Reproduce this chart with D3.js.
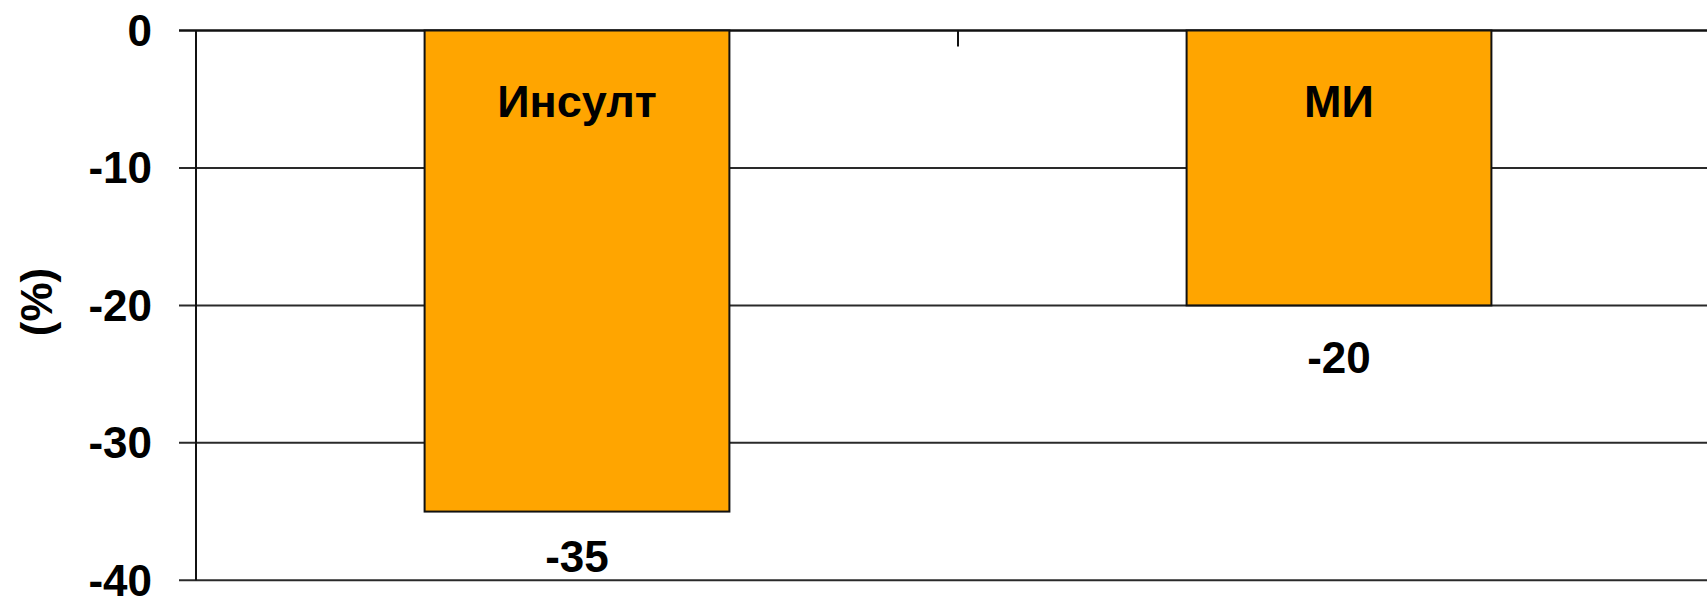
<!DOCTYPE html>
<html>
<head>
<meta charset="utf-8">
<script src="https://cdn.jsdelivr.net/npm/d3@7"></script>
<style>
  html, body { margin: 0; padding: 0; background: #fff; overflow: hidden; }
  text { font-family: "Liberation Sans", Arial, sans-serif; font-weight: bold; fill: #000; }
</style>
</head>
<body>
<div id="chart"></div>
<script>
// chart data
const categories = ["Инсулт", "МИ"];
const values = [-35, -20];
const yTicks = [0, -10, -20, -30, -40];
const yTitle = "(%)";

const width = 1707;
const height = 596;
const margin = { top: 30.5, left: 196, bottom: 15.7 };
const plotRight = 1720; // plot area runs past the window edge

const svg = d3.select("#chart")
    .append("svg")
    .attr("width", width)
    .attr("height", height);

const x = d3.scaleBand()
    .domain(categories)
    .range([margin.left, plotRight])
    .paddingInner(0.6)
    .paddingOuter(0.3);

const y = d3.scaleLinear()
    .domain([0, -40])
    .range([margin.top, height - margin.bottom]);

// gridlines
svg.append("g")
    .selectAll("line")
    .data(yTicks)
    .enter()
    .append("line")
    .attr("x1", margin.left - 17)
    .attr("x2", plotRight)
    .attr("y1", d => y(d))
    .attr("y2", d => y(d))
    .attr("stroke", d => d === 0 ? "#111" : "#2a2a2a")
    .attr("stroke-width", d => d === 0 ? 2.6 : 2);

// y axis line
svg.append("line")
    .attr("x1", margin.left)
    .attr("x2", margin.left)
    .attr("y1", y(0))
    .attr("y2", y(-40))
    .attr("stroke", "#111")
    .attr("stroke-width", 2);

// tick labels
svg.append("g")
    .selectAll("text")
    .data(yTicks)
    .enter()
    .append("text")
    .attr("x", 152)
    .attr("y", d => y(d))
    .attr("dy", "0.35em")
    .attr("text-anchor", "end")
    .style("font-size", "44px")
    .text(d => d);

// category divider ticks (inside, from the zero line)
const step = x.step();
svg.append("g")
    .selectAll("line")
    .data(categories.slice(1))
    .enter()
    .append("line")
    .attr("x1", d => x(d) - x.paddingInner() * step / 2)
    .attr("x2", d => x(d) - x.paddingInner() * step / 2)
    .attr("y1", y(0))
    .attr("y2", y(0) + 16)
    .attr("stroke", "#111")
    .attr("stroke-width", 2);

// bars
svg.append("g")
    .selectAll("rect")
    .data(values)
    .enter()
    .append("rect")
    .attr("x", (d, i) => x(categories[i]))
    .attr("y", y(0))
    .attr("width", x.bandwidth())
    .attr("height", d => y(d) - y(0))
    .attr("fill", "#FFA500")
    .attr("stroke", "#111")
    .attr("stroke-width", 2);

// category labels inside the bars
svg.append("g")
    .selectAll("text")
    .data(categories)
    .enter()
    .append("text")
    .attr("x", d => x(d) + x.bandwidth() / 2)
    .attr("y", 101)
    .attr("dy", "0.35em")
    .attr("text-anchor", "middle")
    .style("font-size", "45px")
    .text(d => d);

// value labels under the bars
svg.append("g")
    .selectAll("text")
    .data(values)
    .enter()
    .append("text")
    .attr("x", (d, i) => x(categories[i]) + x.bandwidth() / 2)
    .attr("y", d => Math.min(y(d) + 52, y(-40) - 24))
    .attr("dy", "0.35em")
    .attr("text-anchor", "middle")
    .style("font-size", "44px")
    .text(d => d);

// y axis title
svg.append("text")
    .attr("transform", "translate(37,302) rotate(-90)")
    .attr("dy", "0.35em")
    .attr("text-anchor", "middle")
    .style("font-size", "44px")
    .text(yTitle);
</script>
</body>
</html>
